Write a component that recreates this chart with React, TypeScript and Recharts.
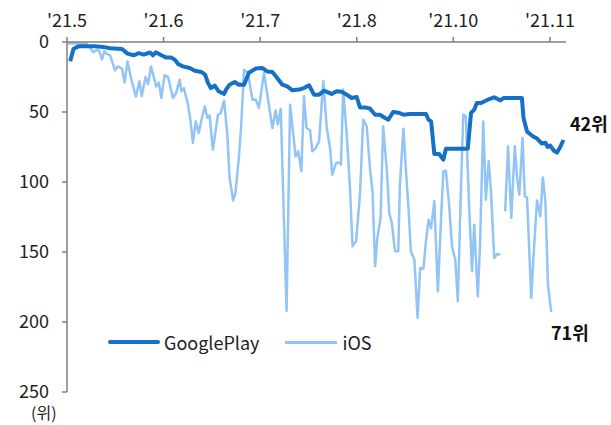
import React from "react";
import { LineChart, Line, XAxis, YAxis } from "recharts";

const tickPositions = [0, 30, 60, 90, 120, 150];
const tickLabels = ["'21.5", "'21.6", "'21.7", "'21.8", "'21.10", "'21.11"];
const rankTicks = [0, 50, 100, 150, 200, 250];

const seriesNames = ["GooglePlay", "iOS"];

const gpX = [1.0, 2.0, 3.1, 4.0, 8.7, 11.2, 13.4, 17.1, 18.8, 20.7, 22.3, 23.8, 25.8, 26.7, 27.6, 29.3, 30.7, 32.3, 33.5, 34.5, 36.0, 38.1, 39.7, 41.7, 42.9, 43.8, 44.7, 45.9, 47.1, 48.8, 49.4, 50.5, 52.1, 53.4, 55.0, 56.5, 58.6, 60.7, 62.2, 63.8, 65.3, 66.9, 68.4, 70.0, 72.1, 73.6, 75.2, 76.7, 78.3, 79.8, 82.2, 83.8, 85.3, 86.9, 88.4, 90.0, 91.0, 92.6, 94.1, 95.7, 97.2, 98.8, 99.8, 101.3, 102.9, 104.5, 106.5, 111.5, 112.3, 113.1, 114.1, 115.6, 116.9, 117.7, 124.5, 125.5, 126.5, 127.3, 128.6, 130.7, 132.7, 134.6, 135.6, 141.3, 141.8, 142.9, 144.8, 146.0, 147.5, 148.6, 149.3, 150.1, 151.2, 152.2, 153.2, 154.2];
const gpRank = [13.8, 5, 3.6, 3, 3, 3.5, 4.5, 5, 8.3, 9.5, 8, 9, 7.5, 9.5, 7.4, 9.5, 11, 11, 12.6, 15.7, 17.4, 18.6, 20.5, 21.4, 23.3, 29.3, 32.9, 31.2, 35.2, 37.1, 34, 30.5, 28.6, 30.5, 30.5, 22, 19, 18.6, 21, 21.5, 25.7, 30.5, 31.7, 34.5, 34, 32.9, 30.9, 37.6, 37.6, 34.8, 37.1, 35.2, 35.5, 37.6, 40, 39.3, 46.7, 46.7, 47.5, 51.9, 52, 54.3, 55.5, 50, 50.5, 51.9, 51.4, 51.4, 55.5, 56.7, 80, 80, 84, 76.2, 76.2, 50.7, 48.3, 43.6, 43.6, 41.2, 39.5, 41.7, 40, 40, 54.3, 64, 67.5, 69, 72.5, 72, 75, 74, 77.5, 79, 75, 70];

const iosX = [0, 5.9, 7.2, 8.2, 9.3, 10.0, 10.9, 11.6, 12.4, 13.4, 14.9, 15.8, 17.1, 17.9, 18.8, 20.0, 21.4, 22.5, 23.2, 24.4, 25.2, 26.1, 27.7, 28.5, 29.3, 30.3, 31.4, 32.9, 33.9, 35.0, 35.5, 36.3, 37.6, 38.4, 39.1, 40.0, 40.9, 41.9, 42.8, 43.6, 44.3, 45.3, 46.9, 47.7, 48.8, 49.8, 50.5, 51.6, 52.3, 53.3, 54.1, 55.0, 56.2, 57.6, 58.6, 59.6, 61.2, 62.7, 63.8, 64.8, 65.5, 66.4, 68.2, 69.3, 70.3, 71.0, 71.8, 72.8, 73.6, 74.4, 75.5, 76.2, 77.2, 78.3, 79.6, 80.7, 81.7, 82.4, 83.6, 84.6, 85.1, 85.8, 86.9, 87.9, 88.7, 89.8, 91.0, 92.0, 93.1, 94.1, 94.9, 95.7, 96.4, 97.4, 98.2, 99.3, 100.1, 100.9, 101.9, 102.9, 103.4, 104.5, 105.3, 106.1, 106.8, 107.9, 108.9, 109.7, 110.7, 111.5, 112.3, 113.1, 114.1, 115.2, 116.2, 116.9, 117.7, 118.6, 119.6, 120.6, 121.4, 122.4, 123.1, 123.9, 124.8, 125.8, 126.5, 127.6, 128.3, 129.3, 130.1, 131.0, 131.7, 132.7, 133.6, 134.6, 135.3, 136.1, 137.0, 138.0, 139.1, 139.8, 140.5, 141.5, 142.2, 142.9, 144.2, 145.0, 146.0, 147.0, 147.8, 148.6, 149.4, 150.4];
const iosRank = [1, 1, 4.3, 7.3, 5.5, 6.5, 12.5, 6.5, 8.5, 9.5, 20.3, 17.4, 19, 29, 14, 27, 39, 28, 38.5, 25, 30, 17.5, 31.7, 29, 40, 23.8, 25, 40, 36.4, 26.9, 35.2, 32.9, 44.8, 56.7, 72.1, 56.7, 65, 54.3, 45.9, 54.3, 52.4, 76.9, 51.9, 51, 41.9, 66.2, 97, 113.3, 108, 85, 60, 19.8, 22.1, 41.2, 41, 47.1, 22.1, 44.8, 61.4, 49, 59, 47.6, 192, 44.8, 66.2, 81.7, 78, 92.4, 38.8, 61.4, 63, 78, 76, 70.9, 28, 61.4, 75.7, 94.8, 86.4, 86, 87.6, 34, 66.2, 104.3, 145.9, 142.4, 109, 55.5, 60.2, 90, 106.7, 160.2, 140, 125.7, 60.2, 90, 122, 129.3, 149.5, 149.5, 101.9, 61.9, 92, 120, 149.5, 155.5, 197, 161.4, 162, 142.4, 126.9, 132.9, 113.8, 178.1, 125.7, 92.4, 92, 113.8, 146, 155.5, 185.2, 101.9, 51.9, 53.1, 111.4, 163.8, 130.5, 181.6, 144.8, 56.7, 112.6, 85.2, 106.7, 154.3, 151.4, 152, null, 121, 74.5, 125.7, 74.5, 97, 109, 68.6, 110.2, 111, 182.9, 149.5, 113.3, 124.5, 96.7, 113.8, 173.3, 192.9];

const endLabels = ["42위", "71위"];
const unitLabel = "(위)";

const gpData = gpX.map((x, i) => ({ x, v: gpRank[i] }));
const iosData = iosX.map((x, i) => ({ x, v: iosRank[i] }));

const FONT = "'Noto Sans CJK KR', 'Noto Sans', sans-serif";
const DARK = "#1570C6";
const LIGHT = "#92C5F5";

export default function App() {
  return (
    <div style={{ position: "absolute", left: 0, top: 0, width: 611, height: 425, background: "#fff", fontFamily: FONT }}>
      <LineChart width={611} height={425} margin={{ top: 0, right: 45, bottom: 33, left: 0 }}>
        <XAxis
          dataKey="x"
          type="number"
          orientation="top"
          domain={[0, 155]}
          ticks={tickPositions}
          tickFormatter={(v: number) => tickLabels[tickPositions.indexOf(v)]}
          height={42}
          tickSize={5}
          tickMargin={10}
          allowDataOverflow
          stroke="#7f7f7f"
          strokeWidth={1.5}
          tick={{ fill: "#222", fontSize: 18, fontFamily: FONT }}
        />
        <YAxis
          type="number"
          reversed
          domain={[0, 250]}
          ticks={rankTicks}
          width={67}
          tickSize={5}
          tickMargin={13}
          stroke="#7f7f7f"
          strokeWidth={1.5}
          tick={{ fill: "#222", fontSize: 18, fontFamily: FONT }}
        />
        <Line data={iosData} dataKey="v" name={seriesNames[1]} stroke={LIGHT} strokeWidth={2.5} dot={false} isAnimationActive={false} connectNulls={false} strokeLinejoin="round" />
        <Line data={gpData} dataKey="v" name={seriesNames[0]} stroke={DARK} strokeWidth={4} dot={false} isAnimationActive={false} strokeLinejoin="round" />
      </LineChart>
      <div style={{ position: "absolute", left: 570, top: 114, fontSize: 18, lineHeight: 1, fontWeight: 700, color: "#111" }}>{endLabels[0]}</div>
      <div style={{ position: "absolute", left: 551, top: 323, fontSize: 18, lineHeight: 1, fontWeight: 700, color: "#111" }}>{endLabels[1]}</div>
      <div style={{ position: "absolute", left: 31, top: 404, fontSize: 16, lineHeight: 1, color: "#222" }}>{unitLabel}</div>
      <div style={{ position: "absolute", left: 108, top: 333, display: "flex", alignItems: "center", fontSize: 18, lineHeight: 1, color: "#222" }}>
        <span style={{ display: "inline-block", width: 52, height: 4, background: DARK, borderRadius: 2, marginRight: 4 }} />
        <span>{seriesNames[0]}</span>
        <span style={{ display: "inline-block", width: 52, height: 3, background: LIGHT, marginLeft: 26, marginRight: 5 }} />
        <span>{seriesNames[1]}</span>
      </div>
    </div>
  );
}
